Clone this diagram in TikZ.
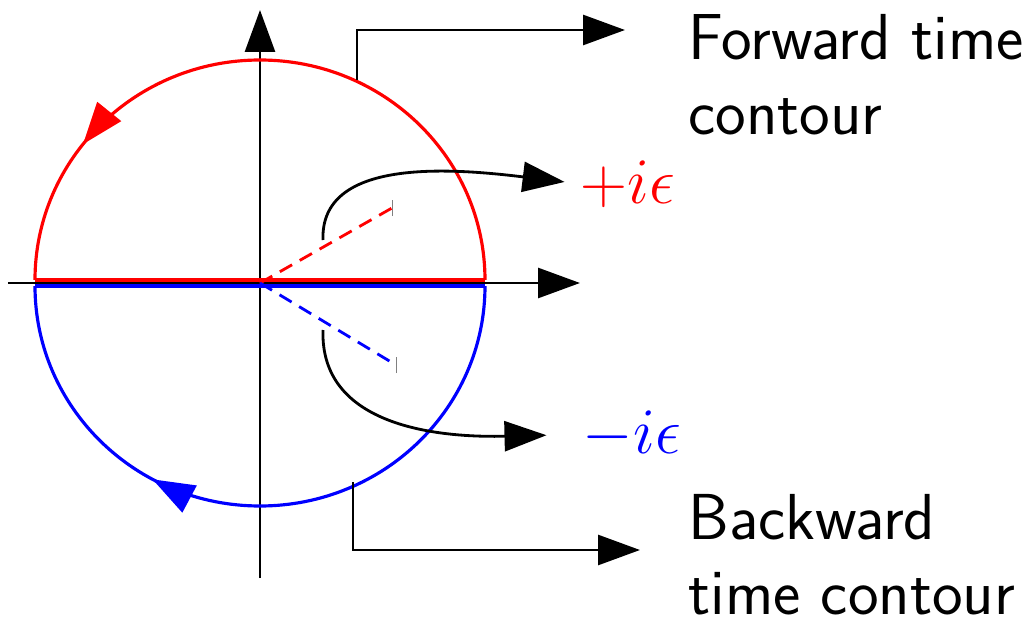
\RequirePackage{fix-cm}
\documentclass[tikz,border=0pt]{standalone}
\usepackage{tikz}
\usepackage{amsmath}
\usetikzlibrary{arrows.meta,decorations.markings}

\begin{document}
\begin{tikzpicture}[
        line width=1.6pt,
        >={Triangle[length=0.84cm,width=0.6cm]},
        axis/.style={->},
        pointer/.style={->},
        contour/.style={line width=1.8pt},
        ray/.style={dashed, line width=1.6pt, dash pattern=on 8pt off 5pt},
        tick/.style={gray, line width=0.5pt},
        label/.style={font=\sffamily\fontsize{37}{42.7}\selectfont, align=left, anchor=north west, inner sep=0pt},
        eps/.style={font=\fontsize{37}{42}\selectfont, inner sep=0pt, anchor=base west}
    ]
        \useasboundingbox (-5.2,-6.72) rectangle (15.52,5.66);

        % Axes
        \coordinate (O) at (0,0);
        \coordinate (xl) at (-5.04,0);
        \coordinate (xr) at (6.4,0);
        \coordinate (yb) at (0,-5.9);
        \coordinate (yt) at (0,5.46);
        \draw[axis] (xl) -- (xr);
        \draw[axis] (yb) -- (yt);

        % Forward (upper) contour
        \draw[contour, red, postaction={decorate}, decoration={markings,
            mark=at position 0.79 with {\arrow{>}}}]
            (4.5,0.06) arc[start angle=0, end angle=180, x radius=4.5, y radius=4.4];
        \draw[contour, red] (-4.5,0.06) -- (4.5,0.06);

        % Backward (lower) contour
        \draw[contour, blue, postaction={decorate}, decoration={markings,
            mark=at position 0.66 with {\arrow{>}}}]
            (4.5,-0.06) arc[start angle=0, end angle=-180, x radius=4.5, y radius=4.4];
        \draw[contour, blue] (-4.5,-0.06) -- (4.5,-0.06);

        % Rotated directions
        \coordinate (up) at (2.64,1.5);
        \coordinate (dn) at (2.72,-1.64);
        \draw[ray, red] (O) -- (up);
        \draw[ray, blue] (O) -- (dn);
        \draw[tick] ([yshift=-0.16cm]up) -- ([yshift=0.16cm]up);
        \draw[tick] ([yshift=-0.16cm]dn) -- ([yshift=0.16cm]dn);

        % Labels for +i eps and -i eps
        \node (plus) [eps, text=red] at (6.39,1.6) {$+i\epsilon$};
        \node (minus) [eps, text=blue] at (6.43,-3.4) {$-i\epsilon$};
        \coordinate (ps) at (1.26,0.86);
        \coordinate (ms) at (1.26,-0.94);
        \draw[pointer, shorten >=0.3cm] (ps) .. controls (1.2,2.5) and (3.8,2.3) .. (plus.west);
        \draw[pointer, shorten >=0.7cm] (ms) .. controls (1.2,-2.8) and (3.4,-3.1) .. (minus.west);

        % Contour names
        \node (fwd) [label] at (8.54,5.4) {Forward time\\contour};
        \node (bwd) [label] at (8.54,-4.2) {Backward\\time contour};
        \coordinate (fs) at (1.94,4.06);
        \coordinate (bs) at (1.86,-3.98);
        \draw[pointer] (fs) |- ([xshift=-1.24cm]fwd.west |- 0,5.06);
        \draw[pointer] (bs) |- ([xshift=-0.94cm]bwd.west |- 0,-5.34);
    \end{tikzpicture}
\end{document}
